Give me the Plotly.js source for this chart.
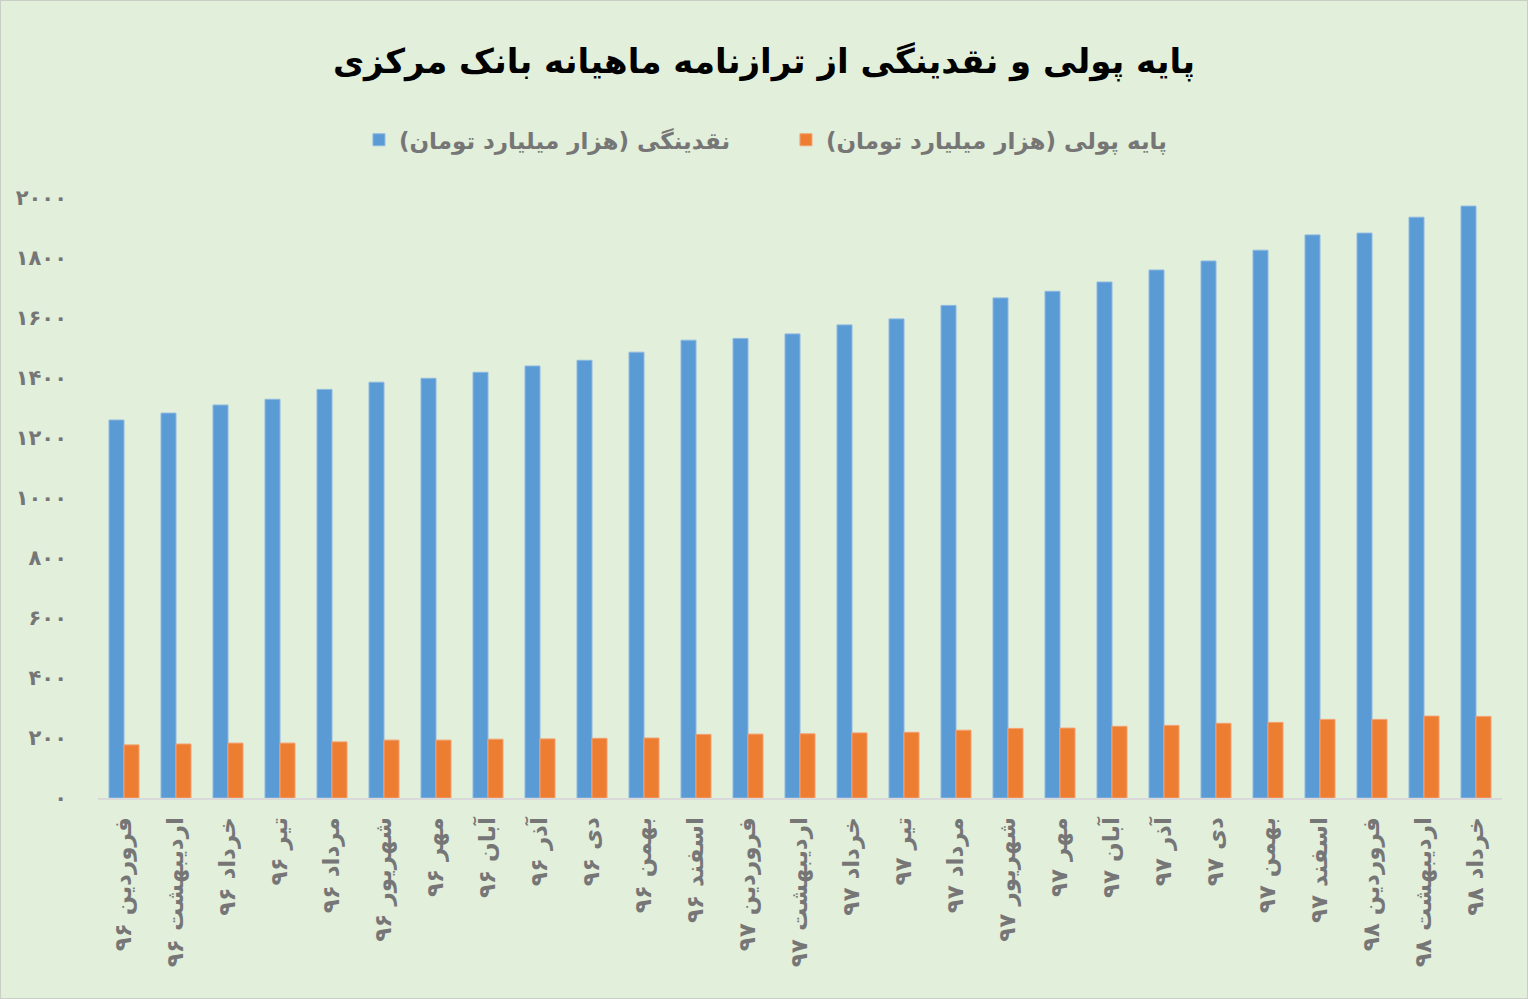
<!DOCTYPE html>
<html>
<head>
<meta charset="utf-8">
<script src="https://cdn.plot.ly/plotly-3.0.1.min.js"></script>
<style>
  html, body { margin: 0; padding: 0; background: #E2EFDA; }
  #chart { width: 1526px; height: 997px; border: 1px solid #C9CFC4; }
</style>
</head>
<body>
<div id="chart"></div>
<script>
// Categories (month + year, Persian calendar)
const months = [
  "فروردین ۹۶", "اردیبهشت ۹۶", "خرداد ۹۶", "تیر ۹۶", "مرداد ۹۶", "شهریور ۹۶",
  "مهر ۹۶", "آبان ۹۶", "آذر ۹۶", "دی ۹۶", "بهمن ۹۶", "اسفند ۹۶",
  "فروردین ۹۷", "اردیبهشت ۹۷", "خرداد ۹۷", "تیر ۹۷", "مرداد ۹۷", "شهریور ۹۷",
  "مهر ۹۷", "آبان ۹۷", "آذر ۹۷", "دی ۹۷", "بهمن ۹۷", "اسفند ۹۷",
  "فروردین ۹۸", "اردیبهشت ۹۸", "خرداد ۹۸"
];

// Liquidity (thousand billion toman)
const liquidity = [
  1260, 1283, 1310, 1329, 1362, 1386, 1399, 1419, 1440, 1459, 1486, 1526,
  1532, 1547, 1577, 1597, 1642, 1667, 1689, 1720, 1760, 1790, 1826, 1877,
  1883, 1936, 1973
];

// Monetary base (thousand billion toman)
const monetaryBase = [
  177, 180, 183, 183, 187, 193, 193, 196, 197, 199, 200, 212,
  213, 214, 217, 219, 226, 232, 233, 239, 242, 249, 252, 262,
  262, 273, 272
];

// Y-axis ticks
const yTickVals = [0, 200, 400, 600, 800, 1000, 1200, 1400, 1600, 1800, 2000];
const yTickText = ["۰", "۲۰۰", "۴۰۰", "۶۰۰", "۸۰۰", "۱۰۰۰", "۱۲۰۰", "۱۴۰۰", "۱۶۰۰", "۱۸۰۰", "۲۰۰۰"];

const seriesNames = [
  "نقدینگی (هزار میلیارد تومان)\u200F",
  "پایه پولی (هزار میلیارد تومان)\u200F"
];
const titleText = "پایه پولی و نقدینگی از ترازنامه ماهیانه بانک مرکزی";

const FONT = "DejaVu Sans, Noto Sans, sans-serif";
const GREY = "#767676";

const traces = [
  {
    type: "bar",
    name: seriesNames[0],
    x: months,
    y: liquidity,
    marker: { color: "#5B9BD5", line: { color: "#8DB8E2", width: 1 } },
    hoverinfo: "none"
  },
  {
    type: "bar",
    name: seriesNames[1],
    x: months,
    y: monetaryBase,
    marker: { color: "#ED7D31", line: { color: "#F2A273", width: 1 } },
    hoverinfo: "none"
  }
];

const layout = {
  width: 1526,
  height: 997,
  paper_bgcolor: "#E2EFDA",
  plot_bgcolor: "#E2EFDA",
  margin: { l: 97, r: 25, t: 197, b: 200, pad: 0 },
  barmode: "group",
  bargap: 0.423,
  bargroupgap: 0,
  showlegend: true,
  font: { family: FONT, color: GREY },
  title: {
    text: titleText,
    font: { family: FONT, size: 34, color: "#000000", weight: "bold" },
    x: 0.5, xanchor: "center",
    y: 1 - 60 / 997, yref: "container", yanchor: "middle"
  },
  legend: {
    orientation: "h",
    x: 0.490, xanchor: "center",
    y: 1.097, yanchor: "middle",
    font: { family: FONT, size: 23, color: GREY, weight: "bold" },
    bgcolor: "rgba(0,0,0,0)",
    itemwidth: 30,
    entrywidth: 382,
    entrywidthmode: "pixels",
    traceorder: "normal"
  },
  xaxis: {
    type: "category",
    tickangle: -90,
    tickfont: { family: FONT, size: 23, color: GREY, weight: "bold" },
    showgrid: false,
    showline: true,
    linecolor: "#D9D9D9",
    linewidth: 2,
    ticks: "",
    ticklabelstandoff: 8,
    zeroline: false,
    fixedrange: true
  },
  yaxis: {
    range: [0, 2000],
    tickvals: yTickVals,
    ticktext: yTickText,
    tickfont: { family: FONT, size: 21, color: GREY, weight: "bold" },
    showgrid: false,
    showline: false,
    zeroline: false,
    ticks: "",
    ticklabelstandoff: 30,
    fixedrange: true
  }
};

Plotly.newPlot("chart", traces, layout, { displayModeBar: false, staticPlot: true });
</script>
</body>
</html>
